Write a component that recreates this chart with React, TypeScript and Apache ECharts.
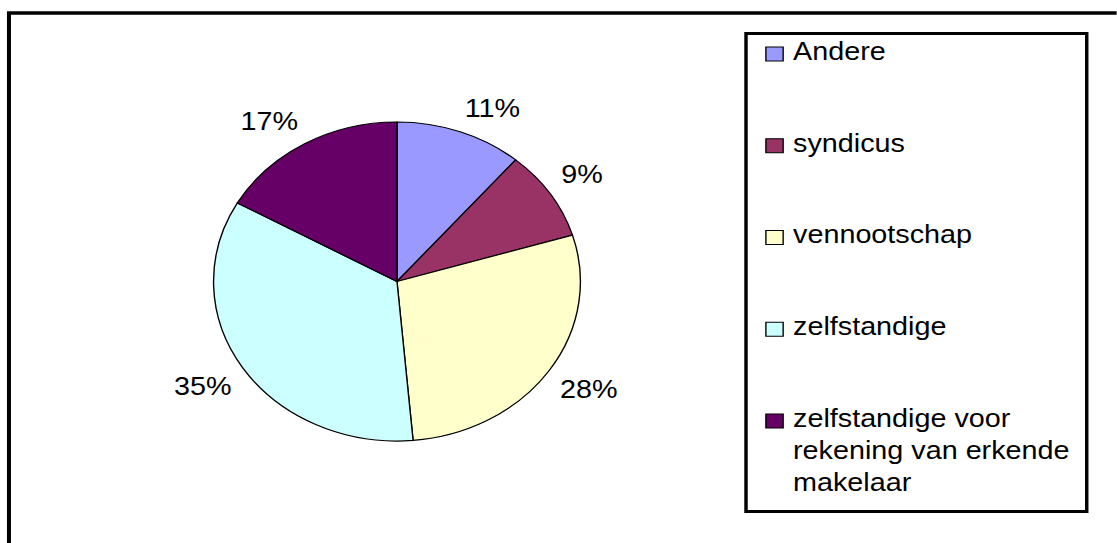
import React, { useEffect, useRef } from "react";
import * as echarts from "echarts";

// ---- data ----
const categories = [
  "Andere",
  "syndicus",
  "vennootschap",
  "zelfstandige",
  "zelfstandige voor rekening van erkende makelaar",
];
const values = [11.2, 9.1, 28.3, 34.6, 16.8];
const colors = ["#9999FF", "#993366", "#FFFFCC", "#CCFFFF", "#660066"];
const legendLabels = [
  "Andere",
  "syndicus",
  "vennootschap",
  "zelfstandige",
  "zelfstandige voor\nrekening van erkende\nmakelaar",
];

// ---- layout (the reference is horizontally stretched) ----
const STRETCH = 1.15;
const W = 1117 / STRETCH;
const H = 543;
const CX = 345.2;
const CY = 281.5;
const R = 159.5;
const LABEL_R = 171;
const FONT = '"Liberation Sans", Arial, Helvetica, sans-serif';

export default function App() {
  const ref = useRef<HTMLDivElement>(null);

  useEffect(() => {
    if (!ref.current) return;
    const chart = echarts.init(ref.current, undefined, { renderer: "svg" });

    const total = values.reduce((a, b) => a + b, 0);
    const midAngles: number[] = [];
    let acc = 0;
    values.forEach((v) => {
      midAngles.push(((acc + v / 2) / total) * Math.PI * 2);
      acc += v;
    });

    const legendTop = 54;
    const legendStep = 91.75;
    const lineH = 32;
    const legendElems: any[] = [
      {
        type: "rect",
        shape: { x: 648.7, y: 33.5, width: 296.3, height: 478 },
        style: { fill: "#fff", stroke: "#000", lineWidth: 3 },
        z: 1,
      },
    ];
    categories.forEach((_, i) => {
      const cy = legendTop + i * legendStep;
      legendElems.push({
        type: "rect",
        shape: { x: 666, y: cy - 7, width: 15, height: 14 },
        style: { fill: colors[i], stroke: "#000", lineWidth: 1.2 },
        z: 2,
      });
      legendElems.push({
        type: "text",
        x: 689.6,
        y: cy - 2.5 - lineH / 2,
        style: {
          text: legendLabels[i],
          fontFamily: FONT,
          fontSize: 25,
          lineHeight: lineH,
          fill: "#000",
          verticalAlign: "top",
          align: "left",
        },
        z: 2,
      });
    });

    chart.setOption({
      animation: false,
      backgroundColor: "#fff",
      graphic: [
        {
          type: "polyline",
          shape: {
            points: [
              [7.8, H + 20],
              [7.8, 13],
              [W + 20, 13],
            ],
          },
          style: { stroke: "#000", lineWidth: 3.5, fill: "none" },
          z: 0,
        },
        ...legendElems,
      ],
      series: [
        {
          type: "pie",
          center: [CX, CY],
          radius: R,
          startAngle: 90,
          clockwise: true,
          avoidLabelOverlap: false,
          silent: true,
          data: categories.map((name, i) => ({
            name,
            value: values[i],
            itemStyle: { color: colors[i] },
          })),
          itemStyle: { borderColor: "#000", borderWidth: 1.2 },
          label: {
            show: true,
            position: "outside",
            formatter: (p: any) => Math.round(p.percent) + "%",
            fontFamily: FONT,
            fontSize: 25,
            color: "#000",
          },
          labelLine: { show: false },
          labelLayout: (params: any) => {
            const a = midAngles[params.dataIndex];
            const s = Math.sin(a);
            const c = Math.cos(a);
            const w = params.labelRect ? params.labelRect.width : 50;
            const h = 25;
            return {
              x: CX + LABEL_R * s + Math.sign(s) * (w / 2),
              y: CY - LABEL_R * c - Math.sign(c) * (h / 2),
              align: "center",
              verticalAlign: "middle",
            };
          },
          emphasis: { disabled: true },
        },
      ],
    });

    return () => chart.dispose();
  }, []);

  return (
    <div
      style={{
        position: "absolute",
        left: 0,
        top: 0,
        width: 1117,
        height: H,
        overflow: "hidden",
        background: "#fff",
      }}
    >
      <div
        ref={ref}
        style={{
          width: W,
          height: H,
          transform: `scaleX(${STRETCH})`,
          transformOrigin: "0 0",
        }}
      />
    </div>
  );
}
